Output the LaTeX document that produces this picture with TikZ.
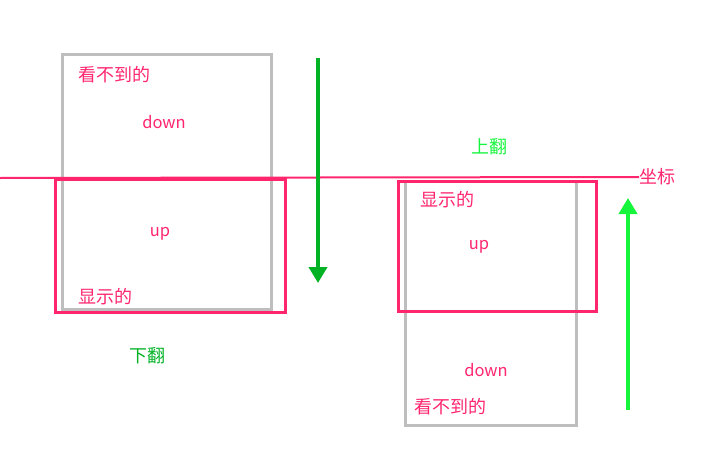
\documentclass[tikz,border=0pt]{standalone}
\usepackage{fontspec}
\setmainfont{Noto Sans CJK SC}
\usetikzlibrary{arrows.meta,positioning}
\definecolor{flipPink}{RGB}{255,38,110}
\definecolor{flipGray}{RGB}{190,190,190}
\definecolor{downGreen}{RGB}{0,178,36}
\definecolor{upGreen}{RGB}{20,245,60}
\tikzstyle{grayBox} = [rectangle, draw=flipGray, line width=3pt, inner sep=0pt, anchor=north west]
\tikzstyle{pinkBox} = [rectangle, draw=flipPink, line width=3pt, inner sep=0pt, anchor=north west]
\tikzstyle{tNode} = [inner sep=0pt, text=flipPink, font=\fontsize{18}{21}\selectfont]
\tikzstyle{wNode} = [tNode, font=\fontsize{16.5}{19}\selectfont]
\tikzstyle{gNode} = [tNode, text=downGreen]
\tikzstyle{arrowDown} = [line width=3.8pt, -{Triangle[width=18pt,length=16pt]}, draw=downGreen]
\tikzstyle{arrowUp} = [line width=3.8pt, -{Triangle[width=18pt,length=16pt]}, draw=upGreen]

\begin{document}
\begin{tikzpicture}[x=1pt, y=-1pt]
        \useasboundingbox (0,0) rectangle (720,460);

        % left: flip down
        \node (grayL) [grayBox, minimum width=209pt, minimum height=255pt] at (61,53) {};
        \node (pinkL) [pinkBox, minimum width=230pt, minimum height=133pt] at (54,178) {};
        \node (hideL) [tNode] at (114,75) {看不到的};
        \node (downL) [wNode] at (164,122) {down};
        \node (upL) [wNode] at (160,234) {up};
        \node (showL) [tNode] at (105,297) {显示的};
        \node (flipDown) [gNode] at (147,356) {下翻};

        % right: flip up
        \node (grayR) [grayBox, minimum width=171pt, minimum height=244pt] at (404,180) {};
        \node (pinkR) [pinkBox, minimum width=198pt, minimum height=130pt] at (397,180) {};
        \node (showR) [tNode] at (447,200) {显示的};
        \node (upR) [wNode] at (479,247) {up};
        \node (downR) [wNode] at (486,370) {down};
        \node (hideR) [tNode] at (450,407) {看不到的};
        \node (flipUp) [gNode, text=upGreen] at (489,147) {上翻};

        % axis
        \coordinate (axisStart) at (0,178);
        \node (axis) [tNode, anchor=west] at (639,177) {坐标};
        \draw [flipPink, line width=2pt] (axisStart) -- (axis.west);

        % arrows
        \coordinate (dTop) at (318,58);
        \coordinate (dBot) at (318,283);
        \coordinate (uBot) at (628,410);
        \coordinate (uTop) at (628,198);
        \draw [arrowDown] (dTop) -- (dBot);
        \draw [arrowUp] (uBot) -- (uTop);
\end{tikzpicture}
\end{document}
